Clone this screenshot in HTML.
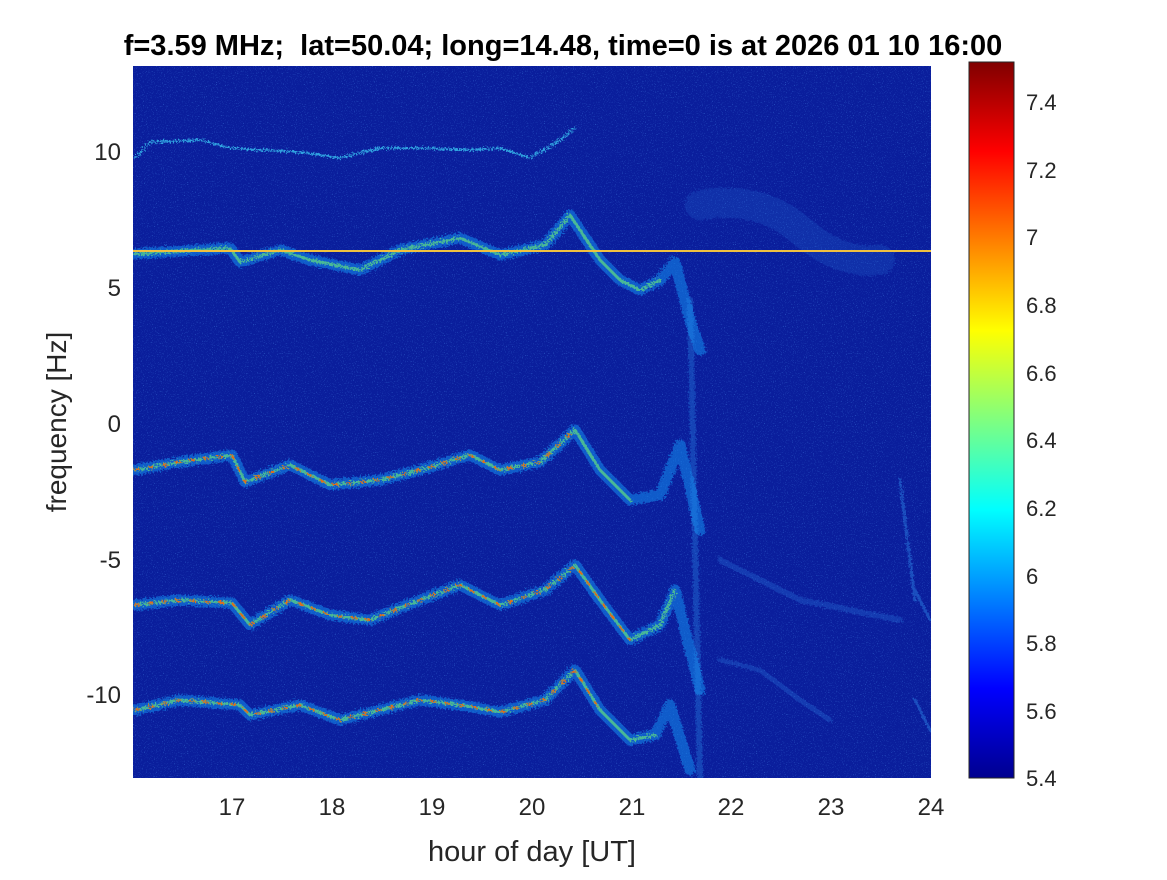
<!DOCTYPE html>
<html><head><meta charset="utf-8"><style>
html,body{margin:0;padding:0;background:#fff;}
svg text{font-family:"Liberation Sans",sans-serif;white-space:pre;}
</style></head><body>
<svg width="1167" height="875" viewBox="0 0 1167 875" xmlns="http://www.w3.org/2000/svg">
<defs>
<linearGradient id="jet" x1="0" y1="1" x2="0" y2="0">
<stop offset="0" stop-color="#00008f"/>
<stop offset="0.125" stop-color="#0000ff"/>
<stop offset="0.375" stop-color="#00ffff"/>
<stop offset="0.625" stop-color="#ffff00"/>
<stop offset="0.875" stop-color="#ff0000"/>
<stop offset="1" stop-color="#800000"/>
</linearGradient>
<filter id="noise" x="0" y="0" width="100%" height="100%">
<feTurbulence type="fractalNoise" baseFrequency="0.9" numOctaves="1" seed="3"/>
<feColorMatrix values="0 0 0 0 0.1  0 0 0 0 0.4  0 0 0 0 1  0 0 0 3 -1.8"/>
</filter>
<filter id="rough"><feTurbulence type="fractalNoise" baseFrequency="0.6" seed="7" result="t"/><feDisplacementMap in="SourceGraphic" in2="t" scale="8"/></filter>
<clipPath id="pc"><rect x="133" y="66" width="798" height="712"/></clipPath>
</defs>
<g clip-path="url(#pc)">
<rect x="133" y="66" width="798" height="712" fill="#0a1e9c"/>
<rect x="133" y="66" width="798" height="712" filter="url(#noise)" opacity="0.7"/>
<g fill="none" stroke-linejoin="round" stroke-linecap="round" filter="url(#rough)">
<path d="M690 300 L700 778" stroke="#1e70d8" stroke-width="6" opacity="0.45"/>
<path d="M700 205 Q760 195 800 230 T880 260" stroke="#2a7ee0" stroke-width="30" opacity="0.2"/>
<path d="M720 560 L760 580 L800 600 L850 610 L900 620" stroke="#2a7ee0" stroke-width="6" opacity="0.3"/>
<path d="M720 660 L760 670 L800 700 L830 720" stroke="#2a7ee0" stroke-width="5" opacity="0.3"/>
<path d="M900 480 L915 600 M915 590 L930 620 M915 700 L930 730" stroke="#2a7ee0" stroke-width="3" opacity="0.5"/>
<g stroke="#1a8ef0" stroke-width="11" opacity="0.55">
<polyline points="135,254 230,248 240,262 280,250 310,260 360,270 400,250 460,238 500,255 545,245 570,215 600,260 620,280 640,290 660,280 675,262 690,320 700,350"/>
<polyline points="135,470 180,462 232,455 245,482 290,465 330,485 380,480 420,470 470,455 500,470 540,462 575,430 600,470 630,500 660,495 680,445 700,530"/>
<polyline points="135,605 180,600 232,603 250,625 290,600 330,615 370,620 420,600 460,585 500,605 545,590 575,565 600,600 630,640 660,625 675,590 700,690"/>
<polyline points="135,710 180,700 240,705 250,715 300,705 340,720 380,710 420,700 460,705 500,712 545,700 575,670 600,710 630,740 655,735 670,705 690,770"/>
</g>
<polyline points="135,158 150,142 200,140 230,148 260,150 300,152 340,158 380,148 420,148 470,150 500,148 530,158 560,140 575,128" stroke="#38c0f0" stroke-width="2" opacity="0.8"/>
<g stroke="#60e080" stroke-width="3" opacity="0.7">
<polyline points="135,254 230,248 240,262 280,250 310,260 360,270 400,250 460,238 500,255 545,245 570,215 600,260 620,280 640,290 660,280"/>
<polyline points="135,470 180,462 232,455 245,482 290,465 330,485 380,480 420,470 470,455 500,470 540,462 575,430 600,470 630,500"/>
<polyline points="135,605 180,600 232,603 250,625 290,600 330,615 370,620 420,600 460,585 500,605 545,590 575,565 600,600 630,640 660,625 675,590"/>
<polyline points="135,710 180,700 240,705 250,715 300,705 340,720 380,710 420,700 460,705 500,712 545,700 575,670 600,710 630,740 655,735"/>
</g>
<g stroke="#ff5a00" stroke-width="2" stroke-dasharray="4 10" opacity="0.85">
<polyline points="135,470 180,462 232,455 245,482 290,465 330,485 380,480 420,470 470,455 500,470 540,462 575,430"/>
<polyline points="135,605 180,600 232,603 250,625 290,600 330,615 370,620 420,600 460,585 500,605 545,590 575,565 600,600 630,640"/>
<polyline points="135,710 180,700 240,705 250,715 300,705 340,720 380,710 420,700 460,705 500,712 545,700 575,670 600,710"/>
</g>
</g>
<line x1="133" y1="251" x2="931" y2="251" stroke="#f0c040" stroke-width="2"/>
</g>
<g font-size="24" fill="#262626" text-anchor="middle">
<text x="232" y="815">17</text><text x="332" y="815">18</text><text x="432" y="815">19</text>
<text x="532" y="815">20</text><text x="632" y="815">21</text><text x="731" y="815">22</text>
<text x="831" y="815">23</text><text x="931" y="815">24</text>
</g>
<g font-size="24" fill="#262626" text-anchor="end">
<text x="121" y="160">10</text><text x="121" y="296">5</text><text x="121" y="432">0</text>
<text x="121" y="568">-5</text><text x="121" y="703">-10</text>
</g>
<text x="532" y="861" font-size="29" fill="#262626" text-anchor="middle">hour of day [UT]</text>
<text transform="translate(66,422) rotate(-90)" font-size="28" fill="#262626" text-anchor="middle">frequency [Hz]</text>
<text x="563" y="55" font-size="29" font-weight="bold" fill="#000" text-anchor="middle" xml:space="preserve">f=3.59 MHz;  lat=50.04; long=14.48, time=0 is at 2026 01 10 16:00</text>
<rect x="969" y="62" width="45" height="716" fill="url(#jet)" stroke="#262626" stroke-width="1"/>
<g font-size="22" fill="#262626">
<text x="1026" y="110">7.4</text><text x="1026" y="178">7.2</text><text x="1026" y="245">7</text>
<text x="1026" y="313">6.8</text><text x="1026" y="381">6.6</text><text x="1026" y="448">6.4</text>
<text x="1026" y="516">6.2</text><text x="1026" y="584">6</text><text x="1026" y="651">5.8</text>
<text x="1026" y="719">5.6</text><text x="1026" y="786">5.4</text>
</g>
</svg>
</body></html>
